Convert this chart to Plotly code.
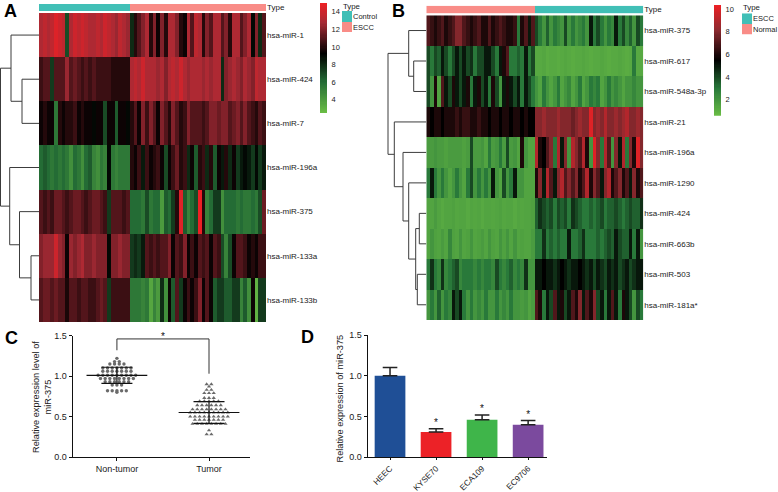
import plotly.graph_objects as go

W, H = 778, 492
FONT = "Liberation Sans"

# ---------- Panel A data ----------
a_rows = ["hsa-miR-1", "hsa-miR-424", "hsa-miR-7", "hsa-miR-196a", "hsa-miR-375", "hsa-miR-133a", "hsa-miR-133b"]
a_types = ["Control"] * 24 + ["ESCC"] * 36
a_mir1 = [13,13.5,13,13.5,14.5,14,13.5,7,13,14,13.5,14,
          13.5,13,13,13.5,13,14,13.5,13,12.5,13.5,13,12.5,
          8,10,11,12,13,10,12,9.5,12,10,13,13,
          12,10,9.5,13,11,13.5,13,10,12,11,13,13,
          11,12,10,13,13,11,12,13,9,12,8,11]
a_mir424 = [10.5,11,11,7.5,11,11,11,12.5,11,11.5,11,10.5,
            11,10.5,11,10.5,10.5,10.5,10.5,10,10,10,10,10,
            13,13.5,13,14,13,13,13,12.5,13,12,13,13.5,
            13,14,13,12.5,13,13,13,12.5,13,12.5,13,13,
            8,12,12.5,13,12.5,12,13,12.5,12,13.5,13,13]
a_mir7 = [9.5,10,9.5,9.5,5.5,10,9.5,10,10,10.5,9.5,10,
          9.5,9.5,9,9.5,9.5,7,9.5,9.5,6.5,9.5,9.5,9,
          10,11,9.5,12,10.5,12,11,9.5,12,11,10,12,
          11,10,10.5,12,11,11,11,10.5,11,12,12,11.5,
          12,12,11,11.5,12,11,12,11,10.5,10,11,10.5]
a_mir196a = [6,6.5,6,5.5,6,5.5,6,5.5,4.5,6,5.5,4.5,
             6,6.5,5,4.5,5.5,5,9,5.5,5,5.5,5.5,5.5,
             10,9.5,10.5,8.5,10.5,9.5,10,10.5,9.5,7,9.5,10.5,
             11.5,10,10.5,8,9.5,6.5,10,10.5,8,10,6.5,9.5,
             8.5,10,8,9.5,7.5,8.5,9,8.5,7.5,9,7.5,8.5]
a_mir375 = [11,10.5,11,10.5,11.5,11.5,11,10.5,11,11.5,11.5,11,
            10.5,11,11.5,11.5,11,10.5,7.5,11,11,11,10.5,11,
            6,6,6,5.5,7,5.5,6,6,4,6.5,6,7.5,
            10,14.5,6.5,5,6,7,15,10,5,6,7.5,7.5,
            4.5,6,6,6,5.5,6,5.5,5.5,6,5.5,7,11.5]
a_mir133a = [12,12.5,12.5,12.5,14,12.5,12,9.5,12.5,12,12.5,13,
             12,12,12.5,12,12,12,9,12,12,12.5,12,12,
             7.5,8,7.5,8.5,11,10.5,11,10.5,11,11,12,9.5,
             11,10.5,12,9.5,10.5,9.5,11,10.5,11,9.5,11,10.5,
             7,5,7,9.5,11,11,10.5,9.5,10,9.5,10.5,10.5]
a_mir133b = [11,11.5,11.5,11,11.5,11,11,9.8,11,11,10.5,11,
             11,10.5,10.5,11,11.5,11,7.5,10.5,10.5,10.5,10.5,10.5,
             5.5,5.5,5.5,5,5.5,3.5,5,4,8,4.5,9.5,6.5,
             11,7.5,9.5,10.5,9.5,10.5,12,9.5,11,9.5,6.5,7.5,
             7.5,6.5,6.5,7.5,7.5,5,6.5,4.5,9.5,3,7.5,7.5]
a_merges = [(1,2,17),(0,7,28),(5,6,8),(4,9,19.5),(3,10,29.3),(8,11,38.5)]

# ---------- Panel B data ----------
b_rows = ["hsa-miR-375", "hsa-miR-617", "hsa-miR-548a-3p", "hsa-miR-21", "hsa-miR-196a",
          "hsa-miR-1290", "hsa-miR-424", "hsa-miR-663b", "hsa-miR-503", "hsa-miR-181a*"]
b_types = ["Normal"] * 30 + ["ESCC"] * 30
b_mir375 = [7,6.5,6,6.5,7,6,6.5,7,8,8,7,6.5,6,6.5,7,6,6,7,6,6.5,7,6.5,6,6,6.5,3,6,7,5,7,
            4,3,2,3.5,2,3,2.5,2,4,2,3,2,2.5,3,2,5,3,4,3,2,3,2.5,5,3,4,2.5,3.5,2,4,3]
b_mir617 = [4,3,4,3.5,5,4,3,4,5,4,5,4,4.5,3,4,4,5,5,4,3,5,6,7,3,3,3.5,3,5,3,4,
            1.3,1.3,1.4,1.2,1.3,1.3,1.2,1.3,1.4,1.3,1.2,1.3,1.3,1.4,1.3,1.2,1.3,1.3,1.4,1.3,1.2,1.3,1.3,1.4,1.3,1.2,1.3,3,1.3,1.3]
b_mir548 = [4,2,6,1.5,7,5,4,6,5,4,5,6,3,5,6,4,5,3,6,4,2,5,6,5,4,5,3,5,4,3,
            2,1.5,3,2,1.5,2,3,1.5,2,2.5,1.5,2,3,1.5,2,3,2.5,3,1.5,2,3,2,2.5,2,1.5,2,2,2.5,2,2]
b_mir21 = [6,5.5,6,6,5.5,6,6,6,6.5,6,6.5,6.5,6,6,6.5,6,6,5.5,6,6,5.5,6,6,5.5,6,6,5.5,6,5.5,5.5,
           8,8,8.5,8,8,8,8.5,8,8,8,7.5,8,8.5,8,8,10,8,8.5,8,9,8,8,8.5,8,8.5,9,8,8,8.5,8]
b_mir196a = [1.8,1.8,2,1.8,1.8,1.6,1.8,1.8,1.8,1.8,1.6,1.8,4,1.8,1.8,2,1.5,3,1.8,2,3,1.8,4,1.8,2,1.5,6,2,1.5,1.5,
             9,6,5.5,7,8,3,9,5,8,2,9,8,7,9,6,2,10,8,3,9,7,2,8,5,9,3,8,6,10,8]
b_mir1290 = [3,5,3,2,3,2,1.5,2,3,2,1.5,3,4,2,3,2,3,2,5,2,1.5,4,2,3,5,2,2,1.5,1.5,1.5,
             6,8,5,9,7,5,8,9,7,8,7,8,6,7,9,6,8,7,5,8,9,6,7,8,6,7,5,8,6,7]
b_mir424 = [1.5,1.5,1.8,1.5,1.3,1.5,1.5,1.6,1.4,1.5,1.5,1.3,1.5,1.4,1.5,1.3,1.5,1.5,1.4,1.5,1.6,1.4,1.5,1.5,1.3,1.5,1.4,1.5,1.5,1.6,
            3.5,4.5,4,3.5,4,3,4,3.5,4,3,4.5,4,3.5,3,3,3.5,3,3.5,4,3,3.5,3.5,4,3.5,3,3.5,4,3.5,3.5,4.5]
b_mir663b = [1.5,2,1.6,1.5,1.8,1.5,2.5,1.6,1.5,2,1.5,1.6,2,1.5,1.6,1.8,1.5,2,1.6,1.5,2,1.6,2,1.5,2,1.5,1.6,1.5,1.5,1.8,
             3,3,4.5,3,3.5,3,3.5,3,3,5,3,3,3.5,4.5,3,3,3,3.5,3,3.5,4,3.5,5,4,3.5,3.5,5,3,5,2]
b_mir503 = [3,4.5,3,2.5,4.5,2.5,3,3.5,4,2.5,3,3,3,2.5,3,2.5,3,3,2.5,4,3,2.5,3,3.5,2.5,3,2.5,4.5,2,2,
            5,5,5.5,5,5,4.5,5,5.5,5,4.5,5,5,5.5,5,4.5,5,4,5,4.5,4,5,4.5,5,4,4.5,5,4,4.5,5,5]
b_mir181a = [2,3,2,3.5,2,3,2.5,5,4,5,3,2,3,2,2.5,2,3,2,2,3,2,2.5,2,3,2,2,1.8,2,1.5,1.8,
             7,6,3,5,4,7,5,6,4,5,7,6,8,5,7,6,8,4,5,3,5,7,5,3,6,5,4,2,4,3]
b_merges = [(1,2,12.6),(0,10,17.6),(6,7,7),(8,9,9),(12,13,10.6),(5,14,17.6),(4,15,23.3),(3,16,32),(11,17,38.3)]

# ---------- Panel C data ----------
c_labels = ["Non-tumor", "Tumor"]
c_normal = [1.22,1.18,1.18,1.15,1.15,1.15,1.15,1.10,1.10,1.10,1.10,1.10,1.10,1.10,
            1.06,1.06,1.06,1.06,1.06,1.06,1.06,1.01,1.01,1.01,1.01,1.01,1.01,1.01,1.01,1.01,
            0.97,0.97,0.97,0.97,0.97,0.97,0.97,0.97,0.93,0.93,0.93,0.93,0.93,0.93,
            0.89,0.89,0.89,0.82,0.82,0.82,0.82,0.82,0.80]
c_tumor = [0.90,0.90,0.87,0.83,0.83,0.79,0.79,0.79,0.73,0.73,0.73,0.69,0.69,0.69,0.69,0.69,
           0.64,0.64,0.64,0.64,0.64,0.64,0.59,0.59,0.59,0.59,0.59,0.59,0.59,0.59,
           0.55,0.55,0.55,0.55,0.55,0.55,0.55,0.55,0.55,0.50,0.50,0.50,0.50,0.50,0.50,0.50,0.50,0.50,
           0.46,0.46,0.46,0.46,0.46,0.46,0.46,0.41,0.41,0.41,0.41,0.41,0.41,0.41,0.41,0.33,0.28,0.28]
c_means = [1.01, 0.55]
c_sds = [0.10, 0.135]
c_bracket_x = [0, 0, 1, 1]
c_bracket_y = [1.32, 1.46, 1.46, 1.03]

# ---------- Panel D data ----------
d_cells = ["HEEC", "KYSE70", "ECA109", "EC9706"]
d_values = [1.0, 0.31, 0.46, 0.40]
d_errors = [0.10, 0.04, 0.06, 0.05]
d_colors = ["#1f4f96", "#ec2227", "#3fb54a", "#7b4a9e"]
d_stars = ["", "*", "*", "*"]

TEAL, PINK = "#41bfb6", "#f98c87"
SCALE_A = [[0, "#6abd45"], [0.28, "#246c35"], [0.54, "#000000"], [0.82, "#a62a35"], [1, "#ed2024"]]
SCALE_B = [[0, "#6abd45"], [0.25, "#28783a"], [0.5, "#000000"], [0.78, "#8f2a30"], [1, "#ed2024"]]


def xdom(a, b):
    return [a / W, b / W]


def ydom(top, bottom):
    return [1 - bottom / H, 1 - top / H]


def dendro(merges, n):
    pos = {i: i for i in range(n)}
    hgt = {i: 0 for i in range(n)}
    xs, ys = [], []
    for k, (a, b, h) in enumerate(merges):
        xs += [hgt[a], h, h, hgt[b], None]
        ys += [pos[a], pos[a], pos[b], pos[b], None]
        pos[n + k] = (pos[a] + pos[b]) / 2
        hgt[n + k] = h
    return xs, ys


def swarm(values, step=0.051):
    out, seen = [], {}
    counts = {v: values.count(v) for v in set(values)}
    for v in values:
        i = seen.get(v, 0)
        seen[v] = i + 1
        out.append((i - (counts[v] - 1) / 2) * step)
    return out


fig = go.Figure()
hidden = dict(showticklabels=False, showgrid=False, zeroline=False, ticks="", showline=False)


def rticks(size, ticklen=0):
    return dict(side="right", showgrid=False, zeroline=False, showline=False, ticks="outside" if ticklen else "", ticklen=ticklen,
                tickcolor="rgba(0,0,0,0)", tickfont=dict(family=FONT, size=size, color="#1a1a1a"))


layout = {}


def panel(rows, matrix, types, merges, left, right, ann_top, ann_bot, top, bot,
          dleft, drange, cb, zmin, zmax, tickvals, leg, leg_names, idx, cols, scale):
    a, b, c, d, e = idx
    nm = lambda i: "" if i == 1 else str(i)
    fig.add_trace(go.Heatmap(z=matrix, y=rows, zmin=zmin, zmax=zmax, colorscale=scale, showscale=False,
                             xaxis=f"x{nm(a)}", yaxis=f"y{nm(a)}", hoverinfo="skip"))
    layout[f"xaxis{nm(a)}"] = dict(domain=xdom(left, right), anchor=f"y{nm(a)}", **hidden)
    layout[f"yaxis{nm(a)}"] = dict(domain=ydom(top, bot), anchor=f"x{nm(a)}", autorange="reversed", type="category", **rticks(8))
    codes = [0 if t == types[0] else 1 for t in types]
    fig.add_trace(go.Heatmap(z=[codes], y=["Type"], zmin=0, zmax=1, showscale=False, colorscale=[[0, cols[0]], [1, cols[1]]],
                             xaxis=f"x{nm(b)}", yaxis=f"y{nm(b)}", hoverinfo="skip"))
    layout[f"xaxis{nm(b)}"] = dict(domain=xdom(left, right), anchor=f"y{nm(b)}", **hidden)
    layout[f"yaxis{nm(b)}"] = dict(domain=ydom(ann_top, ann_bot), anchor=f"x{nm(b)}", type="category", **rticks(8))
    xs, ys = dendro(merges, len(rows))
    fig.add_trace(go.Scatter(x=xs, y=ys, mode="lines", line=dict(color="#3c3c3c", width=1), xaxis=f"x{nm(c)}", yaxis=f"y{nm(c)}",
                             hoverinfo="skip", showlegend=False))
    layout[f"xaxis{nm(c)}"] = dict(domain=xdom(dleft, left), anchor=f"y{nm(c)}", range=[drange, 0], **hidden)
    layout[f"yaxis{nm(c)}"] = dict(domain=ydom(top, bot), anchor=f"x{nm(c)}", range=[len(rows) - 0.5, -0.5], **hidden)
    # legend swatches
    fig.add_trace(go.Heatmap(z=[[0], [1]], y=leg_names, zmin=0, zmax=1, showscale=False, colorscale=[[0, TEAL], [1, PINK]],
                             xaxis=f"x{nm(d)}", yaxis=f"y{nm(d)}", hoverinfo="skip"))
    layout[f"xaxis{nm(d)}"] = dict(domain=xdom(leg[0], leg[0] + 10), anchor=f"y{nm(d)}", **hidden)
    layout[f"yaxis{nm(d)}"] = dict(domain=ydom(leg[1], leg[1] + 21.4), anchor=f"x{nm(d)}", autorange="reversed", type="category", **rticks(7.5))
    # colour key drawn as a one-column heatmap on its own value axis
    steps = 100
    levels = [zmin + (zmax - zmin) * i / steps for i in range(steps + 1)]
    fig.add_trace(go.Heatmap(z=[[v] for v in levels], y=levels, zmin=zmin, zmax=zmax, colorscale=scale, showscale=False,
                             xaxis=f"x{nm(e)}", yaxis=f"y{nm(e)}", hoverinfo="skip"))
    layout[f"xaxis{nm(e)}"] = dict(domain=xdom(cb[0], cb[0] + 7), anchor=f"y{nm(e)}", **hidden)
    layout[f"yaxis{nm(e)}"] = dict(domain=ydom(cb[1], cb[1] + cb[2]), anchor=f"x{nm(e)}", range=[zmin, zmax], tickvals=tickvals, **rticks(7.5, 2))


panel(a_rows, [a_mir1, a_mir424, a_mir7, a_mir196a, a_mir375, a_mir133a, a_mir133b], a_types, a_merges,
      39, 266, 4, 11, 13, 322, 0, 39, (320, 3, 110), 2.5, 15, [4, 6, 8, 10, 12, 14], (342, 11), ["Control", "ESCC"],
      (1, 2, 3, 4, 11), (TEAL, PINK), SCALE_A)
panel(b_rows, [b_mir375, b_mir617, b_mir548, b_mir21, b_mir196a, b_mir1290, b_mir424, b_mir663b, b_mir503, b_mir181a],
      b_types, b_merges, 426.3, 643.3, 5.7, 13.3, 15.3, 320, 386, 40.3, (714, 5, 110.7), 0.6, 10.35, [2, 4, 6, 8, 10],
      (742, 13.3), ["ESCC", "Normal"], (5, 6, 7, 8, 12), (PINK, TEAL), SCALE_B)

# Panel C
GREY = "#6a6a6a"
fig.add_trace(go.Scatter(x=swarm(c_normal), y=c_normal, mode="markers", xaxis="x9", yaxis="y9", hoverinfo="skip",
                         marker=dict(symbol="circle", size=3.4, color=GREY), showlegend=False))
fig.add_trace(go.Scatter(x=[1 + o for o in swarm(c_tumor)], y=c_tumor, mode="markers", xaxis="x9", yaxis="y9", hoverinfo="skip",
                         marker=dict(symbol="triangle-up", size=3.8, color=GREY), showlegend=False))
fig.add_trace(go.Scatter(x=[0, 1], y=c_means, mode="markers", marker=dict(size=0.1, color="#111"), xaxis="x9", yaxis="y9",
                         hoverinfo="skip", showlegend=False,
                         error_y=dict(type="data", array=c_sds, color="#111", thickness=1.2, width=15.5),
                         error_x=dict(type="constant", value=0.33, color="#111", thickness=1.2, width=0)))
fig.add_trace(go.Scatter(x=c_bracket_x, y=c_bracket_y, mode="lines", line=dict(color="#333", width=1), xaxis="x9", yaxis="y9",
                         hoverinfo="skip", showlegend=False))
fig.add_trace(go.Scatter(x=[0.5], y=[1.41], mode="text", text=["*"], textposition="top center", xaxis="x9", yaxis="y9", cliponaxis=False,
                         textfont=dict(family=FONT, size=10, color="#111"), hoverinfo="skip", showlegend=False))
axis_txt = dict(family=FONT, size=9, color="#1a1a1a")
layout["xaxis9"] = dict(domain=xdom(72.7, 250), anchor="y9", range=[-0.48, 1.445], tickvals=[0, 1], ticktext=c_labels, ticks="outside",
                        ticklen=3, showline=True, linecolor="#111", linewidth=1.2, tickcolor="#111", showgrid=False, zeroline=False, tickfont=axis_txt)
layout["yaxis9"] = dict(domain=ydom(335.7, 457), anchor="x9", range=[0, 1.5], tickvals=[0, 0.5, 1, 1.5], tickformat=".1f", ticks="outside",
                        ticklen=3, showline=True, linecolor="#111", linewidth=1.2, tickcolor="#111", showgrid=False, zeroline=False, tickfont=axis_txt)

# Panel D
fig.add_trace(go.Bar(x=[0, 1, 2, 3], y=d_values, width=0.667, marker=dict(color=d_colors, line=dict(width=0)), xaxis="x10", yaxis="y10",
                     hoverinfo="skip", showlegend=False,
                     error_y=dict(type="data", array=d_errors, arrayminus=[0] * 4, color="#222", thickness=1.5, width=7.3)))
fig.add_trace(go.Scatter(x=[0, 1, 2, 3], y=[v + e for v, e in zip(d_values, d_errors)], mode="text", text=d_stars, textposition="top center",
                         xaxis="x10", yaxis="y10", textfont=dict(family=FONT, size=10, color="#111"), hoverinfo="skip", showlegend=False))
layout["xaxis10"] = dict(domain=xdom(367.7, 547), anchor="y10", range=[-0.485, 3.41], tickvals=[0, 1, 2, 3], ticktext=d_cells, tickangle=-45,
                         ticks="outside", ticklen=2, showline=True, linecolor="#111", linewidth=1.2, tickcolor="#111", showgrid=False, zeroline=False,
                         tickfont=dict(family=FONT, size=8.3, color="#1a1a1a"))
layout["yaxis10"] = dict(domain=ydom(335, 457.3), anchor="x10", range=[0, 1.5], tickvals=[0, 0.5, 1, 1.5], tickformat=".1f", ticks="outside",
                         ticklen=3, showline=True, linecolor="#111", linewidth=1.2, tickcolor="#111", showgrid=False, zeroline=False, tickfont=axis_txt)


def label(text, x, y, size, bold=False):
    return dict(text=f"<b>{text}</b>" if bold else text, x=x / W, y=1 - y / H, xref="paper", yref="paper", xanchor="left", yanchor="middle",
                showarrow=False, borderpad=0, font=dict(family=FONT, size=size, color="#000" if bold else "#1a1a1a"))


def vtitle(text, x, y):
    return dict(text=text, x=x / W, y=1 - y / H, xref="paper", yref="paper", xanchor="center", yanchor="middle", textangle=-90,
                showarrow=False, borderpad=0, font=dict(family=FONT, size=9.2, color="#222"))


annotations = [label("A", 3, 11, 18, True), label("B", 391, 11, 18, True), label("C", 4, 337.5, 18, True), label("D", 300, 336.5, 18, True),
               label("Type", 342, 6, 7.8), label("Type", 742, 8, 7.8),
               vtitle("Relative expression level of<br>miR-375", 42, 397), vtitle("Relative expression of miR-375", 339, 398.5)]

fig.update_layout(width=W, height=H, margin=dict(l=0, r=0, t=0, b=0, autoexpand=False), paper_bgcolor="white", plot_bgcolor="white", showlegend=False,
                  annotations=annotations, **layout)
fig.write_html("out.html", config={"displayModeBar": False}, post_script="document.body.style.margin='0';window.dispatchEvent(new Event('resize'));")
